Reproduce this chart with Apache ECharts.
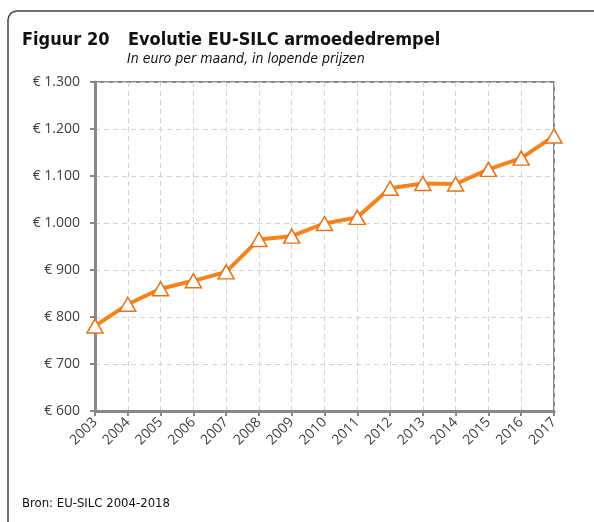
<!DOCTYPE html>
<html>
<head>
<meta charset="utf-8">
<script src="https://cdn.jsdelivr.net/npm/echarts@6/dist/echarts.min.js"></script>
<style>
  html, body { margin: 0; padding: 0; background: #fff; }
  #chart { width: 594px; height: 522px; }
</style>
</head>
<body>
<div id="chart"></div>
<script>
const years = ['2003', '2004', '2005', '2006', '2007', '2008', '2009', '2010', '2011', '2012', '2013', '2014', '2015', '2016', '2017']
const drempel = [781, 827, 860, 877, 896, 965, 972, 999, 1012, 1074, 1084, 1083, 1114, 1138, 1185]
const yMin = 600
const yMax = 1300
const yStep = 100

const titleFont = '"DejaVu Sans Condensed", "DejaVu Sans", sans-serif'
const axisFont = '"Open Sans", sans-serif'

function euro (v) {
  return '€ ' + String(v).replace(/\B(?=(\d{3})+(?!\d))/g, '.')
}

const myChart = echarts.init(document.getElementById('chart'))
const option = {
  animation: false,
  textStyle: { fontFamily: axisFont },
  graphic: [
    {
      // kader links en boven, met afgeronde hoek
      type: 'polyline',
      shape: { points: [[8, 540], [8, 20], [8.7, 16.5], [10.6, 13.6], [13.5, 11.7], [17, 11], [600, 11]] },
      style: { fill: null, stroke: '#444', lineWidth: 1.5 }
    },
    {
      type: 'text', left: 22, top: 31,
      style: { text: 'Figuur 20', font: 'bold 18px ' + titleFont, fill: '#111' }
    },
    {
      type: 'text', left: 128, top: 31,
      style: { text: 'Evolutie EU-SILC armoededrempel', font: 'bold 18px ' + titleFont, fill: '#111' }
    },
    {
      type: 'text', left: 127, top: 52,
      style: { text: 'In euro per maand, in lopende prijzen', font: 'italic 14px ' + titleFont, fill: '#111' }
    },
    {
      type: 'text', left: 22, top: 497,
      style: { text: 'Bron: EU-SILC 2004-2018', font: '13px ' + titleFont, fill: '#111' }
    }
  ],
  grid: {
    left: 95,
    right: 40,
    top: 82,
    bottom: 111,
    show: true,
    borderColor: '#888',
    borderWidth: 2
  },
  xAxis: {
    type: 'category',
    data: years,
    boundaryGap: false,
    axisLine: { lineStyle: { color: '#888', width: 3 } },
    axisTick: { show: true, length: 5, lineStyle: { color: '#888', width: 2 } },
    axisLabel: {
      rotate: 45,
      interval: 0,
      color: '#404040',
      fontSize: 14,
      margin: 9
    },
    splitLine: { show: true, lineStyle: { color: '#d4d4d4', type: [5, 4] } }
  },
  yAxis: {
    type: 'value',
    min: yMin,
    max: yMax,
    interval: yStep,
    axisLine: { show: true, lineStyle: { color: '#888', width: 3 } },
    axisTick: { show: true, length: 5, lineStyle: { color: '#888', width: 2 } },
    axisLabel: {
      color: '#404040',
      fontSize: 14,
      margin: 15,
      formatter: euro
    },
    splitLine: { show: true, lineStyle: { color: '#d4d4d4', type: [5, 4] } }
  },
  series: [
    {
      name: 'Armoededrempel',
      type: 'line',
      data: drempel,
      lineStyle: { color: '#F5841F', width: 4 },
      symbol: 'triangle',
      symbolSize: [16, 14],
      itemStyle: { color: '#fff', borderColor: '#E3731A', borderWidth: 1.5 }
    }
  ]
}
myChart.setOption(option)
</script>
</body>
</html>
